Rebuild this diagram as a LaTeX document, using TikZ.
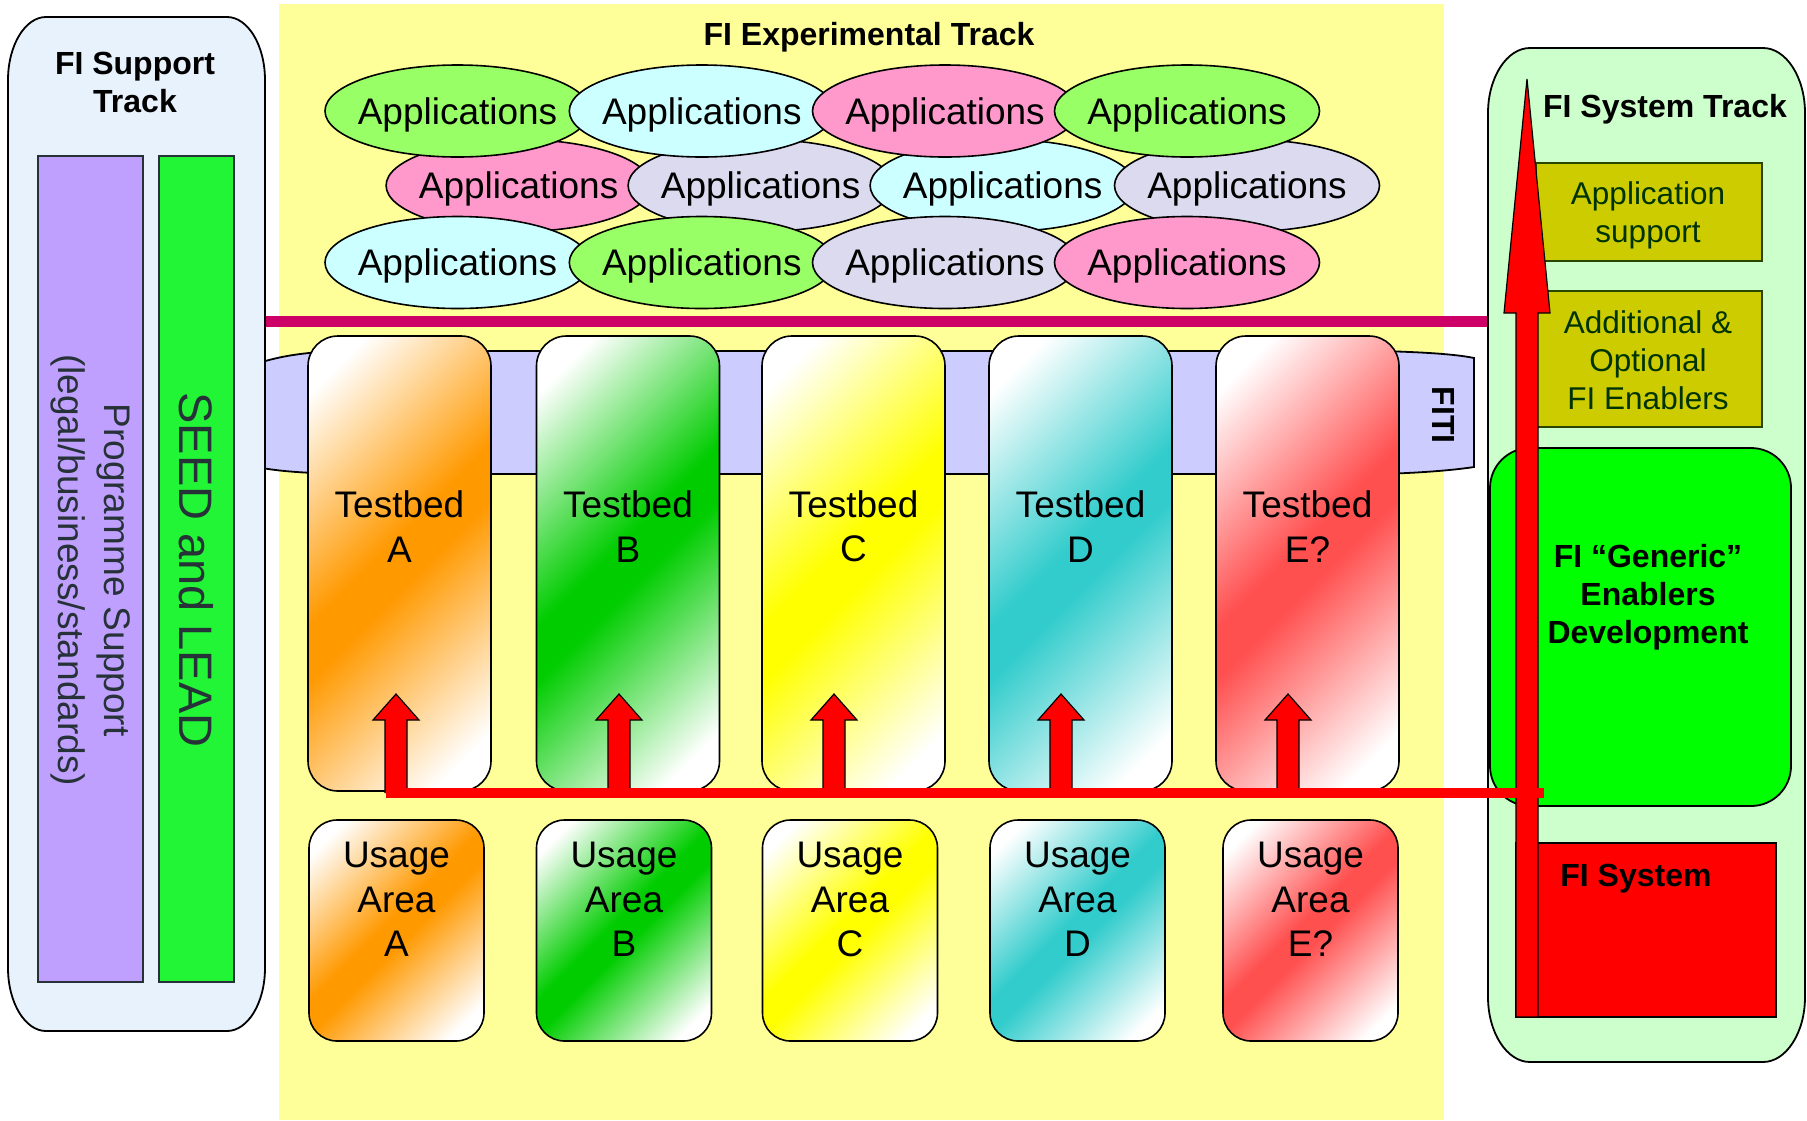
\documentclass[tikz,border=0pt]{standalone}
\usepackage{fontspec}
\setmainfont{Liberation Sans}
\usetikzlibrary{shapes.geometric}

\definecolor{expyellow}{RGB}{255,255,153}
\definecolor{supbg}{RGB}{232,242,252}
\definecolor{sysbg}{RGB}{204,255,204}
\definecolor{appgreen}{RGB}{153,255,102}
\definecolor{appcyan}{RGB}{204,255,255}
\definecolor{apppink}{RGB}{255,153,204}
\definecolor{applav}{RGB}{220,218,238}
\definecolor{magline}{RGB}{204,0,102}
\definecolor{fiticol}{RGB}{204,204,255}
\definecolor{tborange}{RGB}{255,153,0}
\definecolor{tbgreen}{RGB}{0,204,0}
\definecolor{tbyellow}{RGB}{255,255,0}
\definecolor{tbteal}{RGB}{51,204,204}
\definecolor{tbred}{RGB}{255,80,80}
\definecolor{purplebar}{RGB}{192,160,255}
\definecolor{seedgreen}{RGB}{34,245,53}
\definecolor{bartext}{RGB}{38,50,56}
\definecolor{olivebox}{RGB}{204,204,0}
\definecolor{olivetext}{RGB}{0,51,0}
\definecolor{oliveborder}{RGB}{40,70,0}
\definecolor{enabgreen}{RGB}{0,255,0}
\definecolor{redbox}{RGB}{255,0,0}
\colorlet{tbcol}{tborange}

\pgfdeclareverticalshading[tbcol]{tbshade}{100bp}{color(0bp)=(white); color(21bp)=(white);
  color(47bp)=(tbcol); color(53bp)=(tbcol); color(79bp)=(white); color(100bp)=(white)}

\newcommand\fA{\fontsize{37}{44.5}\selectfont}
\newcommand\fT{\fontsize{32}{38}\selectfont\bfseries}
\newcommand\fS{\fontsize{31.5}{38}\selectfont}

% track container outline: x1 y1 x2 y2 rx ry style
\newcommand\trackshape[7]{%
\draw[#7] (#1,{#2+#6}) .. controls (#1,{#2+0.45*#6}) and ({#1+0.45*#5},#2) .. ({#1+#5},#2)
 -- ({#3-#5},#2) .. controls ({#3-0.45*#5},#2) and (#3,{#2+0.45*#6}) .. (#3,{#2+#6})
 -- (#3,{#4-#6}) .. controls (#3,{#4-0.45*#6}) and ({#3-0.45*#5},#4) .. ({#3-#5},#4)
 -- ({#1+#5},#4) .. controls ({#1+0.45*#5},#4) and (#1,{#4-0.45*#6}) .. (#1,{#4-#6}) -- cycle;}

% small block arrow: centre x
\newcommand\smallarrow[1]{%
\draw[arrowstyle] ({#1-11},793) -- ({#1-11},720) -- ({#1-23},720) -- (#1,694)
 -- ({#1+23},720) -- ({#1+11},720) -- ({#1+11},793);}

\tikzset{
 every node/.style={inner sep=0pt, outer sep=0pt},
 app/.style={ellipse, draw=black, line width=1.6pt, minimum width=265pt,
   minimum height=92pt, inner xsep=-45pt, text depth=0pt, font=\fA},
 gradbox/.style={draw=black, line width=1.6pt,
   /utils/exec={\colorlet{tbcol}{#1}}, shading=tbshade, shading angle=45},
 testbed/.style={gradbox=#1, rounded corners=30pt,
   minimum width=183pt, minimum height=455pt},
 usage/.style={gradbox=#1, rounded corners=28pt,
   minimum width=175pt, minimum height=221pt},
 lbl/.style={align=center, font=\fA},
 title/.style={align=center, font=\fT},
 arrowstyle/.style={fill=red, draw=black, line width=1.2pt, line join=miter},
 olive/.style={fill=olivebox, draw=oliveborder, line width=1.4pt},
 olivetxt/.style={text=olivetext, align=center, font=\fS},
 bar/.style={draw=bartext, line width=1.2pt},
}

\begin{document}
\begin{tikzpicture}[x=1pt,y=-1pt]
\useasboundingbox (0,0) rectangle (1807,1120);

% ---------------- experimental track background
\fill[expyellow] (279,4) rectangle (1444,1120);
\node[title] (exp-title) at (869,37) {FI Experimental Track};

% applications (middle row lies underneath)
\node[app, fill=apppink]  (a21) at (518.6,185.5) {Applications};
\node[app, fill=applav]   (a22) at (760.6,185.5) {Applications};
\node[app, fill=appcyan]  (a23) at (1002.6,185.5) {Applications};
\node[app, fill=applav]   (a24) at (1247,185.5) {Applications};
\node[app, fill=appgreen] (a11) at (457.5,111) {Applications};
\node[app, fill=appcyan]  (a12) at (701.8,111) {Applications};
\node[app, fill=apppink]  (a13) at (945,111)   {Applications};
\node[app, fill=appgreen] (a14) at (1187,111)  {Applications};
\node[app, fill=appcyan]  (a31) at (457.5,262.5) {Applications};
\node[app, fill=appgreen] (a32) at (701.8,262.5) {Applications};
\node[app, fill=applav]   (a33) at (945,262.5)   {Applications};
\node[app, fill=apppink]  (a34) at (1187,262.5)  {Applications};

% magenta separator
\coordinate (sep-l) at (264,321);
\coordinate (sep-r) at (1489,321);
\draw[magline, line width=11pt] (sep-l) -- (sep-r);

% FITI band
\draw[fill=fiticol, line width=1.8pt]
  (262,362) .. controls (285,355) and (310,352) .. (340,351) -- (1380,351)
  .. controls (1420,352) and (1455,354) .. (1474,358) -- (1474,467)
  .. controls (1455,470) and (1420,473) .. (1380,474) -- (340,474)
  .. controls (310,473) and (285,472) .. (262,468) -- cycle;
\node[title, rotate=-90] (fiti) at (1443,415) {FITI};

% ---------------- support track
\trackshape{8}{17}{265}{1031}{38}{63}{fill=supbg, draw=black, line width=1.8pt}
\node[title] (sup-title) at (135,82) {FI Support\\Track};
\node[bar, fill=purplebar, minimum width=105pt, minimum height=826pt] (prog) at (90.5,569) {};
\node[bar, fill=seedgreen, minimum width=75pt, minimum height=826pt] (seed) at (196.5,569) {};
\node[rotate=-90, align=center, text=bartext, font=\fontsize{37}{46}\selectfont] (prog-t) at (90.5,570)
  {Programme Support\\(legal/business/standards)};
\node[rotate=-90, text=bartext, font=\fontsize{47}{50}\selectfont] (seed-t) at (196.5,570) {SEED and LEAD};

% ---------------- testbeds
\node[testbed=tborange] (tbA) at (399.5,563.5) {};
\node[testbed=tbgreen]  (tbB) at (628,563.5) {};
\node[testbed=tbyellow] (tbC) at (853.5,563.5) {};
\node[testbed=tbteal]   (tbD) at (1080.5,563.5) {};
\node[testbed=tbred]    (tbE) at (1307.5,563.5) {};
\node[lbl] (tbA-l) at (399.5,526.5) {Testbed\\A};
\node[lbl] (tbB-l) at (628,526.5) {Testbed\\B};
\node[lbl] (tbC-l) at (853.5,526.5) {Testbed\\C};
\node[lbl] (tbD-l) at (1080.5,526.5) {Testbed\\D};
\node[lbl] (tbE-l) at (1307.5,526.5) {Testbed\\E?};

% ---------------- usage areas
\node[usage=tborange] (uaA) at (396.5,930.5) {};
\node[usage=tbgreen]  (uaB) at (624,930.5) {};
\node[usage=tbyellow] (uaC) at (850,930.5) {};
\node[usage=tbteal]   (uaD) at (1077.5,930.5) {};
\node[usage=tbred]    (uaE) at (1310.5,930.5) {};
\node[lbl] (uaA-l) at (396.5,899.5) {Usage\\Area\\A};
\node[lbl] (uaB-l) at (624,899.5) {Usage\\Area\\B};
\node[lbl] (uaC-l) at (850,899.5) {Usage\\Area\\C};
\node[lbl] (uaD-l) at (1077.5,899.5) {Usage\\Area\\D};
\node[lbl] (uaE-l) at (1310.5,899.5) {Usage\\Area\\E?};

% ---------------- system track
\trackshape{1488}{48}{1805}{1062}{42}{65}{fill=sysbg, draw=black, line width=1.8pt}
\node[title] (sys-title) at (1665,109) {FI System Track};
\node[olive, minimum width=226pt, minimum height=98pt] (appsup) at (1649,212) {};
\node[olivetxt] (appsup-t) at (1648,215.5) {Application\\support};
\node[olive, minimum width=226pt, minimum height=136pt] (addopt) at (1649,359) {};
\node[olivetxt] (addopt-t) at (1648,360.5) {Additional \&\\Optional\\FI Enablers};
\node[draw=black, line width=1.8pt, fill=enabgreen, rounded corners=40pt,
  minimum width=301pt, minimum height=358pt] (generic) at (1640.5,627) {};
\node[title] (generic-t) at (1648,597) {FI “Generic”\\Enablers\\Development};
\node[draw=black, line width=1.6pt, fill=redbox, minimum width=260pt, minimum height=174pt] (fisys) at (1646,930) {};
\node[title] (fisys-t) at (1636,879) {FI System};

% big arrow
\draw[arrowstyle] (1516,1017) -- (1516,313) -- (1504,313) -- (1527,79) -- (1550,313)
  -- (1538,313) -- (1538,1017) -- cycle;

% ---------------- small arrows and red link
\smallarrow{396}
\smallarrow{619}
\smallarrow{834}
\smallarrow{1061}
\smallarrow{1288}
\coordinate (link-l) at (386,793);
\coordinate (link-r) at (1544,793);
\draw[red, line width=10pt] (link-l) -- (link-r);

\end{tikzpicture}
\end{document}
